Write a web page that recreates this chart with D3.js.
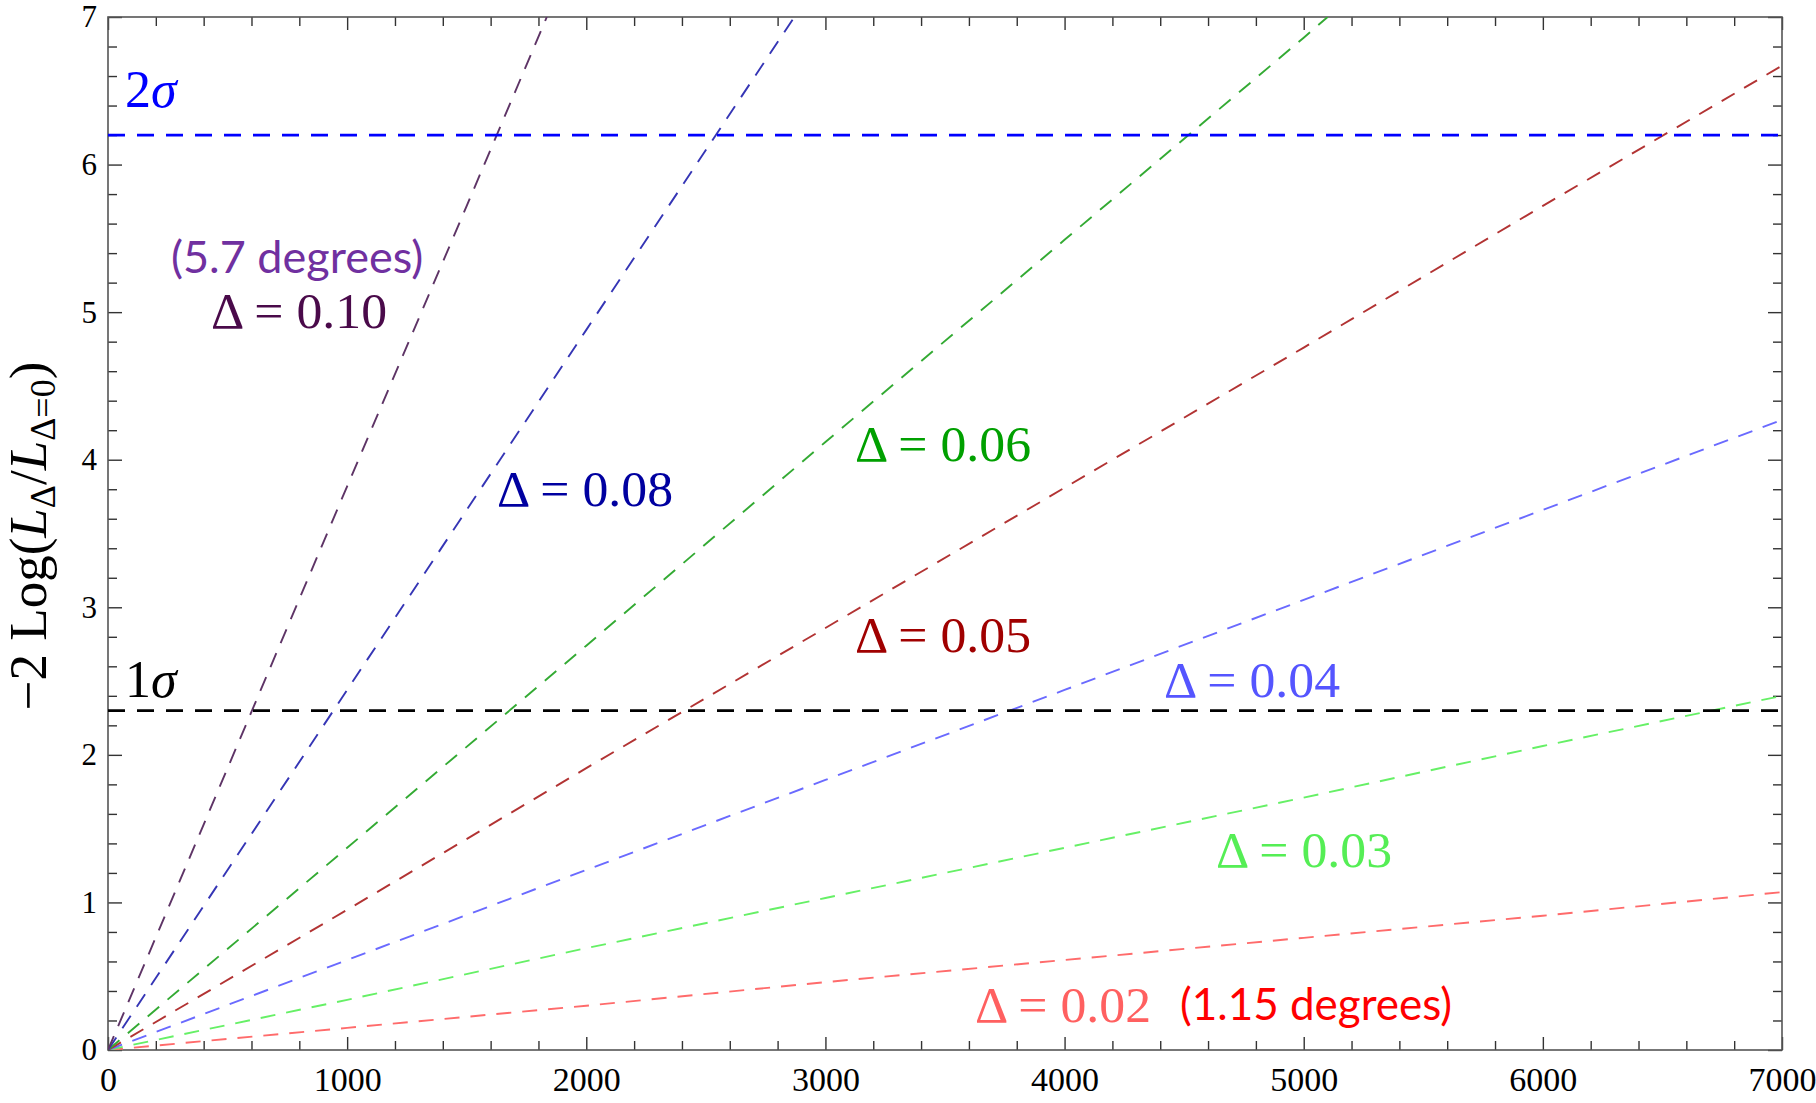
<!DOCTYPE html>
<html>
<head>
<meta charset="utf-8">
<script src="https://cdn.jsdelivr.net/npm/d3@7"></script>
<style>
  html, body { margin: 0; padding: 0; background: #fff; }
  svg { display: block; }
  .tick text { font-family: "Liberation Serif", "Times New Roman", serif; fill: #000; }
</style>
</head>
<body>
<svg id="chart" width="1816" height="1103"></svg>
<script>
// ---- data ----------------------------------------------------------------
// number of events on the x axis, likelihood ratio statistic on the y axis
const deltaNames = ["0.02", "0.03", "0.04", "0.05", "0.06", "0.08", "0.10"];

const nD002 = [0, 1000, 2000, 3000, 4000, 5000, 6000, 7000];
const lD002 = [0, 0.15, 0.30, 0.46, 0.61, 0.76, 0.91, 1.07];
const nD003 = [0, 1000, 2000, 3000, 4000, 5000, 6000, 7000];
const lD003 = [0, 0.34, 0.69, 1.03, 1.37, 1.71, 2.06, 2.40];
const nD004 = [0, 1000, 2000, 3000, 4000, 5000, 6000, 7000];
const lD004 = [0, 0.61, 1.22, 1.83, 2.44, 3.05, 3.66, 4.27];
const nD005 = [0, 1000, 2000, 3000, 4000, 5000, 6000, 7000];
const lD005 = [0, 0.95, 1.91, 2.86, 3.81, 4.76, 5.72, 6.67];
const nD006 = [0, 1000, 2000, 3000, 4000, 5000, 5100];
const lD006 = [0, 1.37, 2.74, 4.12, 5.49, 6.86, 7.0];
const nD008 = [0, 1000, 2000, 2870];
const lD008 = [0, 2.44, 4.88, 7.0];
const nD010 = [0, 500, 1000, 1500, 1835];
const lD010 = [0, 1.91, 3.82, 5.72, 7.0];

const seriesN = [nD002, nD003, nD004, nD005, nD006, nD008, nD010];
const seriesL = [lD002, lD003, lD004, lD005, lD006, lD008, lD010];
const lineColors  = ["#ff6b6b", "#66f066", "#6a6aff", "#b23333", "#33aa33", "#3535b5", "#5e3466"];
const labelColors = ["#ff6060", "#55ee55", "#5555ff", "#a00000", "#00a000", "#0000a0", "#4a0a4a"];

// confidence levels (2 d.o.f.)
const sigmaNames  = ["1σ", "2σ"];
const sigmaLevels = [2.30, 6.20];
const sigmaColors = ["#000000", "#0000ff"];

const xTicks = [0, 1000, 2000, 3000, 4000, 5000, 6000, 7000];
const yTicks = [0, 1, 2, 3, 4, 5, 6, 7];

// ---- layout ----------------------------------------------------------------
const svg = d3.select("#chart");
const L = 108, R = 1782, T = 17, B = 1050;
const x = d3.scaleLinear().domain([0, 7000]).range([L, R]);
const y = d3.scaleLinear().domain([0, 7]).range([B, T]);

const xMinor = d3.range(0, 7001, 200).filter(v => v % 1000 !== 0);
const yMinor = d3.range(0, 36).map(i => +(i * 0.2).toFixed(1)).filter(v => Math.abs(v - Math.round(v)) > 1e-6);

svg.append("defs").append("clipPath").attr("id", "plot")
  .append("rect").attr("x", L).attr("y", T).attr("width", R - L).attr("height", B - T);

// ---- axes (ticks pointing inward on all four sides) -------------------------
function styleAxis(g) {
  g.select(".domain").remove();
  g.selectAll(".tick line").attr("stroke", "#333").attr("stroke-width", 1.4);
}
svg.append("g").attr("transform", `translate(0,${B})`)
  .call(d3.axisBottom(x).tickValues(xTicks).tickSize(-13).tickSizeOuter(0).tickPadding(17).tickFormat(d3.format("d")))
  .call(styleAxis)
  .selectAll("text").attr("font-size", 34);
svg.append("g").attr("transform", `translate(0,${B})`)
  .call(d3.axisBottom(x).tickValues(xMinor).tickSize(-9).tickFormat(""))
  .call(styleAxis);
svg.append("g").attr("transform", `translate(0,${T})`)
  .call(d3.axisTop(x).tickValues(xTicks).tickSize(-13).tickFormat(""))
  .call(styleAxis);
svg.append("g").attr("transform", `translate(0,${T})`)
  .call(d3.axisTop(x).tickValues(xMinor).tickSize(-9).tickFormat(""))
  .call(styleAxis);

svg.append("g").attr("transform", `translate(${L},0)`)
  .call(d3.axisLeft(y).tickValues(yTicks).tickSize(-14).tickPadding(11).tickFormat(d3.format("d")))
  .call(styleAxis)
  .selectAll("text").attr("font-size", 31);
svg.append("g").attr("transform", `translate(${L},0)`)
  .call(d3.axisLeft(y).tickValues(yMinor).tickSize(-9).tickFormat(""))
  .call(styleAxis);
svg.append("g").attr("transform", `translate(${R},0)`)
  .call(d3.axisRight(y).tickValues(yTicks).tickSize(-14).tickFormat(""))
  .call(styleAxis);
svg.append("g").attr("transform", `translate(${R},0)`)
  .call(d3.axisRight(y).tickValues(yMinor).tickSize(-9).tickFormat(""))
  .call(styleAxis);

// frame
svg.append("rect").attr("x", L).attr("y", T).attr("width", R - L).attr("height", B - T)
  .attr("fill", "none").attr("stroke", "#555").attr("stroke-width", 1.6);

// ---- curves -----------------------------------------------------------------
const plot = svg.append("g").attr("clip-path", "url(#plot)");
const line = d3.line().x(d => x(d[0])).y(d => y(d[1]));

seriesN.forEach((ns, i) => {
  const pts = ns.map((n, j) => [n, seriesL[i][j]]);
  plot.append("path").datum(pts)
    .attr("d", line)
    .attr("fill", "none")
    .attr("stroke", lineColors[i])
    .attr("stroke-width", 1.9)
    .attr("stroke-dasharray", "15,11");
});

// confidence-level reference lines
sigmaLevels.forEach((lv, i) => {
  plot.append("line")
    .attr("x1", x(0)).attr("x2", x(7000))
    .attr("y1", y(lv)).attr("y2", y(lv))
    .attr("stroke", sigmaColors[i]).attr("stroke-width", 2.8)
    .attr("stroke-dasharray", "17,12");
});

// ---- annotations --------------------------------------------------------------
const serif = '"Liberation Serif", "Times New Roman", serif';
const sans = 'Lato, Carlito, Calibri, "Open Sans", sans-serif';

// Delta labels: left edge and baseline, in pixels
const deltaLabelPos = [[975, 1022], [1216, 867], [1164, 697], [855, 652], [855, 461], [497, 506], [211, 328]];
deltaNames.forEach((nm, i) => {
  svg.append("text")
    .attr("x", deltaLabelPos[i][0]).attr("y", deltaLabelPos[i][1])
    .attr("font-family", serif).attr("font-size", 50)
    .attr("fill", labelColors[i])
    .attr("textLength", 176).attr("lengthAdjust", "spacingAndGlyphs")
    .text(`Δ = ${nm}`);
});

svg.append("text").attr("x", 171).attr("y", 273)
  .attr("font-family", sans).attr("font-size", 45).attr("fill", "#7030a0")
  .text("(5.7 degrees)");
svg.append("text").attr("x", 1180).attr("y", 1020)
  .attr("font-family", sans).attr("font-size", 44).attr("fill", "#ff0000")
  .text("(1.15 degrees)");

// sigma labels, baselines sit above their lines
const sigmaLabelGap = [14, 28];
sigmaNames.forEach((nm, i) => {
  const t = svg.append("text")
    .attr("x", L + 17).attr("y", y(sigmaLevels[i]) - sigmaLabelGap[i])
    .attr("font-family", serif).attr("font-size", 52)
    .attr("fill", sigmaColors[i]);
  t.append("tspan").text(nm[0]);
  t.append("tspan").attr("font-style", "italic").text(nm.slice(1));
});

// y-axis title: −2 Log(L_Δ / L_{Δ=0})
const yt = svg.append("text")
  .attr("transform", `translate(46,536) rotate(-90)`)
  .attr("text-anchor", "middle")
  .attr("font-family", serif).attr("font-size", 53).attr("fill", "#000");
yt.append("tspan").text("−2 Log(");
yt.append("tspan").attr("font-style", "italic").text("L");
yt.append("tspan").attr("font-size", 36).attr("dy", 9).text("Δ");
yt.append("tspan").attr("dy", -9).text("/");
yt.append("tspan").attr("font-style", "italic").text("L");
yt.append("tspan").attr("font-size", 36).attr("dy", 9).text("Δ=0");
yt.append("tspan").attr("dy", -9).text(")");
</script>
</body>
</html>
